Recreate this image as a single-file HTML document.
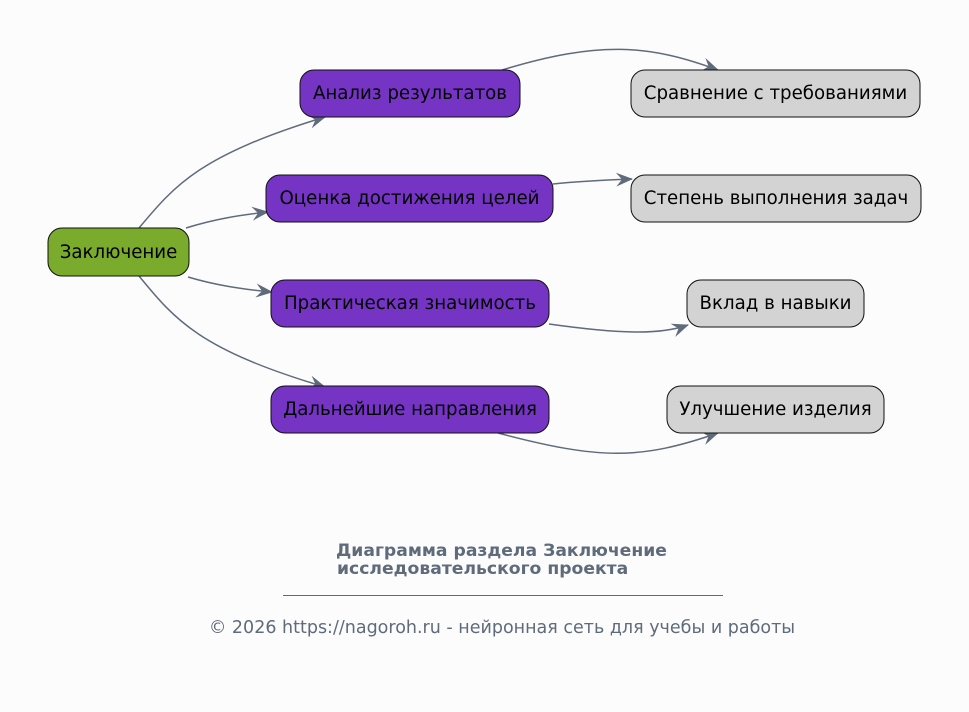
<!DOCTYPE html>
<html><head><meta charset="utf-8"><style>
body{margin:0;background:#fcfcfc;}
svg{display:block;font-family:"DejaVu Sans","Liberation Sans",sans-serif;}
</style></head><body>
<svg width="969" height="712" viewBox="0 0 969 712">
<defs>
<marker id="a" markerWidth="18" markerHeight="14" refX="16" refY="7" orient="auto" markerUnits="userSpaceOnUse">
<path d="M0,0 L17,7 L0,14 L6,7 Z" fill="#5f6b7a"/>
</marker>
</defs>
<rect width="969" height="712" fill="#fcfcfc"/>
<g fill="none" stroke="#5f6b7a" stroke-width="1.5" marker-end="url(#a)">
<path d="M139,228 C175,185 200,155 325,117"/>
<path d="M186,228 C215,219 240,215 268,212"/>
<path d="M188,277 C215,285 240,289 272,292"/>
<path d="M139,276 C175,320 200,350 325,387"/>
<path d="M502,70 C600,40 650,45 718,70"/>
<path d="M553,184 C580,181 605,180 632,179"/>
<path d="M549,324 C620,334 660,335 688,325"/>
<path d="M498,433 C600,460 640,460 718,433"/>
</g>
<g stroke="#111" stroke-width="1">
<rect x="48" y="228" width="141" height="48" rx="14" fill="#7aab2c"/>
<rect x="300" y="70" width="220" height="47" rx="14" fill="#7634c4"/>
<rect x="266" y="175" width="287" height="47" rx="14" fill="#7634c4"/>
<rect x="271" y="280" width="278" height="47" rx="14" fill="#7634c4"/>
<rect x="271" y="386" width="278" height="47" rx="14" fill="#7634c4"/>
<rect x="631" y="70" width="289" height="47" rx="14" fill="#d3d3d3"/>
<rect x="631" y="175" width="290" height="47" rx="14" fill="#d3d3d3"/>
<rect x="687" y="280" width="177" height="47" rx="14" fill="#d3d3d3"/>
<rect x="667" y="386" width="217" height="47" rx="14" fill="#d3d3d3"/>
</g>
<g font-size="18.2" fill="#000" text-anchor="middle">
<text x="118.5" y="258">Заключение</text>
<text x="410" y="99">Анализ результатов</text>
<text x="409.5" y="204">Оценка достижения целей</text>
<text x="410" y="309">Практическая значимость</text>
<text x="410" y="415">Дальнейшие направления</text>
<text x="775.5" y="99">Сравнение с требованиями</text>
<text x="776" y="204">Степень выполнения задач</text>
<text x="775.5" y="309">Вклад в навыки</text>
<text x="775.5" y="415">Улучшение изделия</text>
</g>
<g fill="#5f6b7a">
<text x="336" y="556" font-size="17.2" font-weight="bold">Диаграмма раздела Заключение</text>
<text x="337" y="574" font-size="17.2" font-weight="bold">исследовательского проекта</text>
<rect x="283" y="595" width="440" height="1"/>
<text x="502" y="633" font-size="17.5" text-anchor="middle">© 2026 https://nagoroh.ru - нейронная сеть для учебы и работы</text>
</g>
</svg>
</body></html>
